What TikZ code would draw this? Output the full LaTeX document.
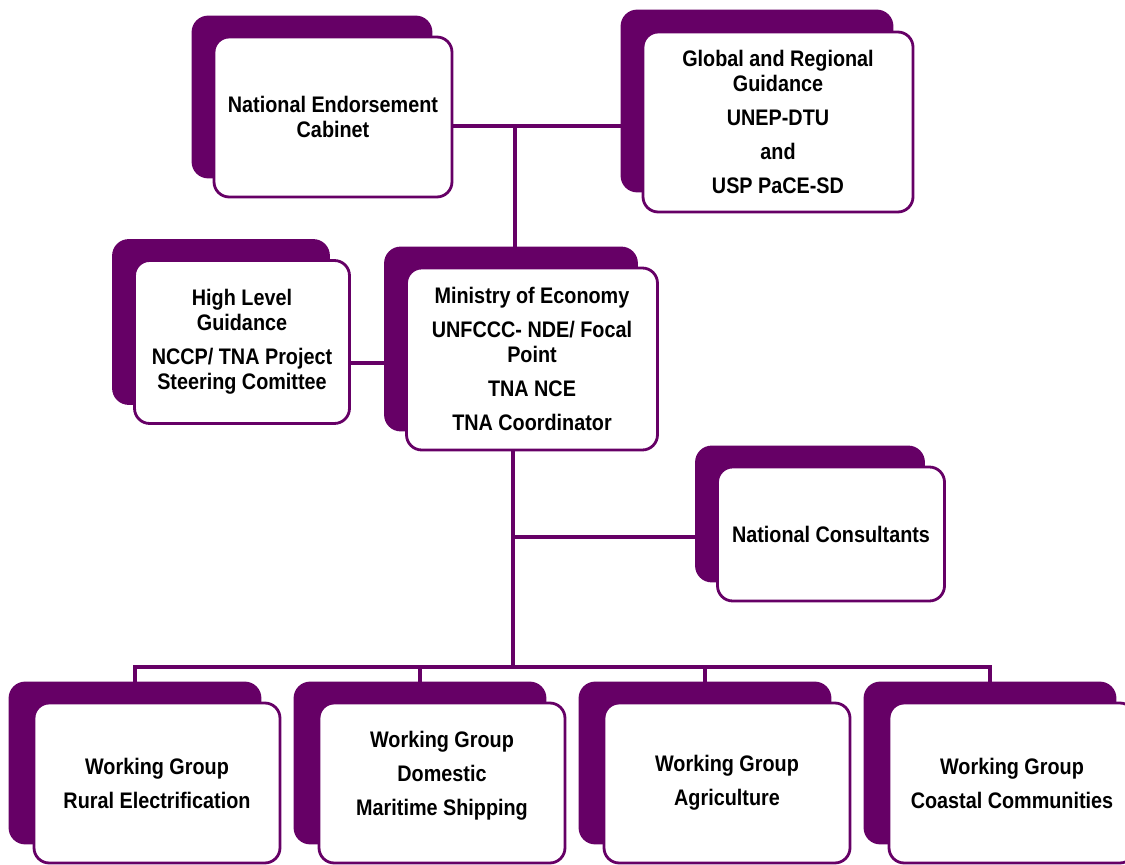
\documentclass[tikz,border=0pt]{standalone}
\usepackage{fontspec}
\setmainfont{Liberation Sans}[FakeStretch=0.88]
\definecolor{OrgPurple}{HTML}{660066}

\begin{document}
\begin{tikzpicture}[
    x=0.025cm, y=-0.025cm,
    font=\bfseries\fontsize{16}{17.8}\selectfont,
    box size/.style 2 args={minimum width=#1*0.025cm,
                            minimum height=#2*0.025cm},
    back/.style={fill=OrgPurple, draw=OrgPurple, line width=2pt,
                 rounded corners=3.8mm, inner sep=0pt},
    front/.style={fill=white, draw=OrgPurple, line width=2pt,
                  rounded corners=3.8mm, align=center, inner sep=2pt,
                  text=black},
    link/.style={draw=OrgPurple, line width=2.2pt, line join=miter}
]
    \useasboundingbox (0,0) rectangle (1125,865);

    % top row
    \node[back, box size={238}{160}] (cabinet-bk) at (312,97) {};
    \node[front, box size={238}{160}] (cabinet) at (333,117)
        {National Endorsement\\Cabinet};

    \node[back, box size={270}{180}] (global-bk) at (757,101) {};
    \node[front, box size={270}{180}] (global) at (778,122)
        {Global and Regional\\Guidance\\[6.4pt]UNEP-DTU\\[6.4pt]and\\[6.4pt]USP PaCE-SD};

    % middle row
    \node[back, box size={215}{163}] (guidance-bk) at (221,322) {};
    \node[front, box size={215}{163}] (guidance) at (242,342)
        {High Level\\Guidance\\[6.4pt]NCCP/ TNA Project\\Steering Comittee};

    \node[back, box size={251}{182}] (ministry-bk) at (511,339) {};
    \node[front, box size={251}{182}] (ministry) at (532,359)
        {Ministry of Economy\\[6.4pt]UNFCCC- NDE/ Focal\\Point\\[6.4pt]TNA NCE\\[6.4pt]TNA Coordinator};

    \node[back, box size={227}{134}] (consult-bk) at (810,514) {};
    \node[front, box size={227}{134}] (consult) at (831,534)
        {National Consultants};

    % working groups
    \node[back, box size={250}{160}] (wg1-bk) at (135,763) {};
    \node[front, box size={246}{160}] (wg1) at (157,783)
        {Working Group\\[6.4pt]Rural Electrification};

    \node[back, box size={250}{160}] (wg2-bk) at (420,763) {};
    \node[front, box size={246}{160}] (wg2) at (442,783)
        {Working Group\\[6.4pt]Domestic\\[6.4pt]Maritime Shipping\\[-3.4pt]\mbox{}};

    \node[back, box size={250}{160}] (wg3-bk) at (705,763) {};
    \node[front, box size={246}{160}] (wg3) at (727,783)
        {Working Group\\[6.4pt]Agriculture};

    \node[back, box size={250}{160}] (wg4-bk) at (990,763) {};
    \node[front, box size={246}{160}] (wg4) at (1012,783)
        {Working Group\\[6.4pt]Coastal Communities};

    % connectors
    \coordinate (top-j) at (515,126);
    \coordinate (side-j) at (368,363);
    \coordinate (nc-j) at (513,537);
    \coordinate (bus-j) at (513,667);

    \draw[link] (cabinet.east |- top-j) -- (global-bk.west |- top-j);
    \draw[link] (top-j) -- (top-j |- ministry-bk.north);
    \draw[link] (guidance.east |- side-j) -- (ministry-bk.west |- side-j);
    \draw[link] (bus-j |- ministry.south) -- (bus-j);
    \draw[link] (nc-j) -- (consult-bk.west |- nc-j);
    \draw[link] (wg1-bk.north) -- (wg1-bk.north |- bus-j)
        -- (wg4-bk.north |- bus-j) -- (wg4-bk.north);
    \foreach \n in {2,3} {
        \draw[link] (wg\n-bk.north |- bus-j) -- (wg\n-bk.north);
    }
\end{tikzpicture}
\end{document}
